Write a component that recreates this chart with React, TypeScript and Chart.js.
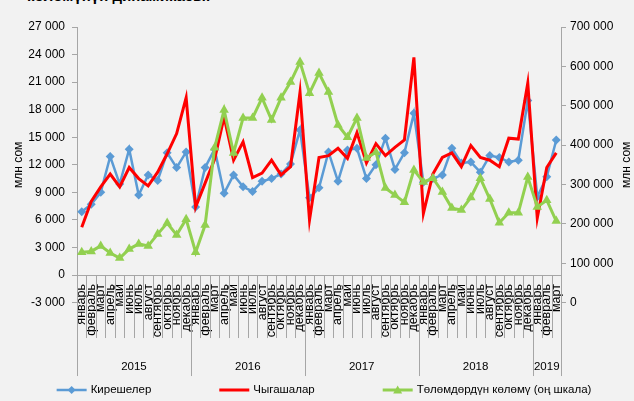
import React, { useEffect, useRef } from 'react';
import { Chart, registerables } from 'chart.js';

Chart.register(...registerables);

const FONT = "'Liberation Sans', Arial, sans-serif";

// ---- data ----
const months = ['январь', 'февраль', 'март', 'апрель', 'май', 'июнь', 'июль', 'август', 'сентябрь', 'октябрь', 'ноябрь', 'декабрь'];
const years = ['2015', '2016', '2017', '2018', '2019'];
const monthsPerYear = [12, 12, 12, 12, 3];

// Кирешелер (млн сом, left axis)
const revenue = [
  6900, 7700, 9000, 12900, 9900, 13700, 8700, 10900, 10300, 13300, 11700, 13400,
  7400, 11700, 13700, 8900, 10900, 9600, 9100, 10200, 10500, 11000, 12100, 15800,
  8400, 9500, 13400, 10200, 13600, 13800, 10500, 12000, 14900, 11500, 13300, 17600,
  10100, 10500, 10900, 13800, 12200, 12300, 11200, 13000, 12800, 12300, 12500, 19000,
  8500, 10700, 14700,
];
// Чыгашалар (млн сом, left axis)
const expenses = [
  5200, 8000, 9600, 11000, 9600, 11700, 10500, 9700, 11200, 13200, 15400, 19300,
  7400, 10000, 12600, 17200, 12500, 14500, 10600, 11100, 12500, 10900, 11800, 19900,
  6000, 12800, 13000, 13800, 12700, 15500, 12200, 14300, 13000, 13900, 14700, 23700,
  6700, 11000, 12800, 13300, 11800, 14100, 12800, 12500, 11800, 14900, 14800, 20900,
  6200, 11700, 13300,
];
// Төлөмдөрдүн көлөмү (млн сом, right axis)
const payments = [
  128000, 130000, 144000, 126000, 113000, 136000, 149000, 144000, 174000, 202000, 172000, 212000,
  128000, 197000, 393000, 489000, 380000, 469000, 469000, 520000, 464000, 520000, 560000, 611000,
  532000, 583000, 535000, 451000, 420000, 469000, 367000, 382000, 291000, 273000, 255000, 337000,
  306000, 316000, 281000, 240000, 235000, 267000, 316000, 263000, 203000, 228000, 228000, 319000,
  243000, 260000, 207000,
];

const leftTicks = [-3000, 0, 3000, 6000, 9000, 12000, 15000, 18000, 21000, 24000, 27000];
const rightTicks = [0, 100000, 200000, 300000, 400000, 500000, 600000, 700000];

const seriesNames = ['Кирешелер', 'Чыгашалар', 'Төлөмдөрдүн көлөмү (оң шкала)'];
const axisTitle = 'млн сом';

// ---- derived ----
const labels: string[] = [];
years.forEach((y, yi) => {
  for (let m = 0; m < monthsPerYear[yi]; m++) labels.push(months[m]);
});
const yearStarts: number[] = [];
{
  let acc = 0;
  monthsPerYear.forEach((n) => { yearStarts.push(acc); acc += n; });
  yearStarts.push(acc);
}
const yearCenters = monthsPerYear.map((n, i) => yearStarts[i] + (n - 1) / 2);

const BLUE = '#5b9bd5';
const RED = '#ff0000';
const GREEN = '#92d050';
const AXIS = '#a6a6a6';
const COLORS = [BLUE, RED, GREEN];
const LINE_W = [2.5, 3, 3];
const MARKERS = ['diamond', null, 'triangle'];

const fmt = (v: number | string) => String(v).replace(/\B(?=(\d{3})+(?!\d))/g, ' ');

const decorPlugin = {
  id: 'axisDecor',
  afterDraw(chart: any) {
    const { ctx, chartArea, scales } = chart;
    const xs = scales.x;
    const ys = scales.y;
    const y0 = ys.getPixelForValue(0);
    const w = xs.getPixelForValue(1) - xs.getPixelForValue(0);
    const start = xs.getPixelForValue(0) - w / 2;
    ctx.save();
    // category separators below the axis
    ctx.strokeStyle = AXIS;
    ctx.lineWidth = 1;
    for (let i = 0; i <= labels.length; i++) {
      const bx = Math.round(start + i * w) + 0.5;
      const isYear = yearStarts.includes(i);
      ctx.beginPath();
      ctx.moveTo(bx, y0);
      ctx.lineTo(bx, y0 + (isYear ? 101 : 63));
      ctx.stroke();
    }
    // right axis title
    ctx.save();
    ctx.fillStyle = '#000';
    ctx.font = `12px ${FONT}`;
    ctx.textAlign = 'center';
    ctx.textBaseline = 'middle';
    ctx.translate(chartArea.right + 66, (chartArea.top + chartArea.bottom) / 2);
    ctx.rotate(-Math.PI / 2);
    ctx.fillText(axisTitle, 0, 0);
    ctx.restore();

    // legend
    ctx.font = `11.5px ${FONT}`;
    ctx.textBaseline = 'middle';
    ctx.textAlign = 'left';
    const lineLen = 30;
    const textGap = 4;
    const itemGap = 68;
    const widths = seriesNames.map((t) => lineLen + textGap + ctx.measureText(t).width);
    const total = widths.reduce((a, b) => a + b, 0) + itemGap * (widths.length - 1);
    let x = 324 - total / 2;
    const ly = 390;
    seriesNames.forEach((t, i) => {
      ctx.strokeStyle = COLORS[i];
      ctx.fillStyle = COLORS[i];
      ctx.lineWidth = LINE_W[i];
      ctx.beginPath();
      ctx.moveTo(x, ly);
      ctx.lineTo(x + lineLen, ly);
      ctx.stroke();
      const cx = x + lineLen / 2;
      if (MARKERS[i] === 'diamond') {
        ctx.beginPath();
        ctx.moveTo(cx, ly - 4);
        ctx.lineTo(cx + 4, ly);
        ctx.lineTo(cx, ly + 4);
        ctx.lineTo(cx - 4, ly);
        ctx.closePath();
        ctx.fill();
      } else if (MARKERS[i] === 'triangle') {
        ctx.beginPath();
        ctx.moveTo(cx, ly - 4.5);
        ctx.lineTo(cx + 4.5, ly + 3.5);
        ctx.lineTo(cx - 4.5, ly + 3.5);
        ctx.closePath();
        ctx.fill();
      }
      ctx.fillStyle = '#000';
      ctx.fillText(t, x + lineLen + textGap, ly);
      x += widths[i] + itemGap;
    });
    ctx.restore();
  },
};

export default function App() {
  const ref = useRef<HTMLCanvasElement>(null);

  useEffect(() => {
    const canvas = ref.current!;
    const chart = new Chart(canvas, {
      type: 'line',
      data: {
        labels,
        datasets: [
          {
            label: seriesNames[0],
            data: revenue,
            borderColor: BLUE,
            backgroundColor: BLUE,
            borderWidth: 2.5,
            pointStyle: 'rectRot',
            pointRadius: 4.5,
            pointBackgroundColor: BLUE,
            pointBorderColor: BLUE,
            pointBorderWidth: 0,
            yAxisID: 'y',
            xAxisID: 'x',
            order: 3,
            clip: false,
          },
          {
            label: seriesNames[1],
            data: expenses,
            borderColor: RED,
            backgroundColor: RED,
            borderWidth: 3,
            pointRadius: 0,
            yAxisID: 'y',
            xAxisID: 'x',
            order: 2,
            clip: false,
          },
          {
            label: seriesNames[2],
            data: payments,
            borderColor: GREEN,
            backgroundColor: GREEN,
            borderWidth: 3,
            pointStyle: 'triangle',
            pointRadius: 5.5,
            pointBackgroundColor: GREEN,
            pointBorderColor: GREEN,
            pointBorderWidth: 0,
            yAxisID: 'y1',
            xAxisID: 'x',
            order: 1,
            clip: false,
          },
        ],
      },
      options: {
        responsive: false,
        animation: false,
        devicePixelRatio: 1,
        layout: { padding: { top: 27, left: 0, right: 0, bottom: 23.4 } },
        elements: { line: { tension: 0 } },
        plugins: {
          tooltip: { enabled: false },
          legend: { display: false },
        },
        scales: {
          x: {
            type: 'category',
            position: { y: 0 } as any,
            offset: true,
            grid: { display: false, drawTicks: false },
            border: { display: true, color: AXIS, width: 1 },
            ticks: {
              autoSkip: false,
              minRotation: 90,
              maxRotation: 90,
              padding: 9,
              color: '#000',
              font: { size: 12.5, family: FONT },
            },
          },
          xYears: {
            type: 'linear',
            position: 'bottom',
            min: -0.5,
            max: labels.length - 0.5,
            grid: { display: false, drawTicks: false },
            border: { display: false },
            afterBuildTicks: (s: any) => {
              s.ticks = yearCenters.map((v) => ({ value: v }));
            },
            afterFit: (s: any) => {
              s.height = 75;
            },
            ticks: {
              autoSkip: false,
              maxRotation: 0,
              padding: 57,
              color: '#000',
              font: { size: 11.5, family: FONT },
              callback: (v: any) => {
                const i = yearCenters.indexOf(Number(v));
                return i >= 0 ? years[i] : '';
              },
            },
          },
          y: {
            position: 'left',
            min: leftTicks[0],
            max: leftTicks[leftTicks.length - 1],
            afterBuildTicks: (s: any) => {
              s.ticks = leftTicks.map((v) => ({ value: v }));
            },
            afterFit: (s: any) => {
              s.width = 77;
            },
            grid: { drawOnChartArea: false, drawTicks: true, tickLength: 5, color: AXIS },
            border: { display: true, color: AXIS, width: 1 },
            ticks: {
              padding: 7,
              color: '#000',
              font: { size: 12, family: FONT },
              callback: (v: any) => fmt(v),
            },
            title: {
              display: true,
              text: axisTitle,
              color: '#000',
              padding: { top: 11, bottom: 0 },
              font: { size: 12, family: FONT },
            },
          },
          y1: {
            position: 'right',
            min: rightTicks[0],
            max: rightTicks[rightTicks.length - 1],
            afterBuildTicks: (s: any) => {
              s.ticks = rightTicks.map((v) => ({ value: v }));
            },
            afterFit: (s: any) => {
              s.width = 73;
            },
            grid: { drawOnChartArea: false, drawTicks: true, tickLength: 5, color: AXIS },
            border: { display: true, color: AXIS, width: 1 },
            ticks: {
              padding: 4,
              color: '#000',
              font: { size: 12, family: FONT },
              callback: (v: any) => fmt(v),
            },
          },
        },
      } as any,
      plugins: [decorPlugin],
    });
    return () => chart.destroy();
  }, []);

  return (
    <div
      style={{
        position: 'fixed',
        left: 0,
        top: 0,
        width: 634,
        height: 401,
        background: '#f2f2f2',
        overflow: 'hidden',
      }}
    >
      <div
        style={{
          position: 'absolute',
          left: 27,
          top: -13,
          font: `bold 15px ${FONT}`,
          whiteSpace: 'nowrap',
          color: '#000',
        }}
      >
        көлөмүнүн динамикасы.
      </div>
      <canvas ref={ref} width={634} height={401} style={{ position: 'absolute', left: 0, top: 0 }} />
    </div>
  );
}
